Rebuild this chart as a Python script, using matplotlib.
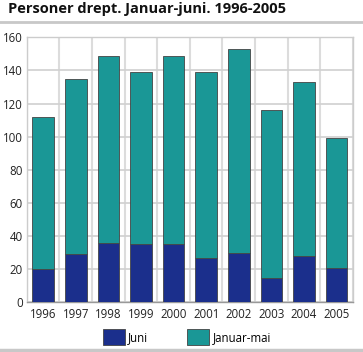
import matplotlib.pyplot as plt
import numpy as np
from matplotlib.lines import Line2D

plt.rcParams['font.family'] = ['Open Sans', 'DejaVu Sans']

years = ['1996', '1997', '1998', '1999', '2000', '2001', '2002', '2003', '2004', '2005']
juni = [20, 29, 36, 35, 35, 27, 30, 15, 28, 21]
total = [112, 135, 149, 139, 149, 139, 153, 116, 133, 99]
januar_mai = [t - j for t, j in zip(total, juni)]

fig = plt.figure(figsize=(3.63, 3.52), dpi=100)
ax = fig.add_axes([0.074, 0.141, 0.898, 0.753])

x = np.arange(len(years))
ax.bar(x, juni, width=0.66, color='#1b2f8c', edgecolor='#444444', linewidth=0.6,
       label='Juni', zorder=3)
ax.bar(x, januar_mai, bottom=juni, width=0.66, color='#1a9796', edgecolor='#444444',
       linewidth=0.6, label='Januar-mai', zorder=3)

ax.set_xlim(-0.5, len(years) - 0.5)
ax.set_ylim(0, 160)
ax.set_yticks(range(0, 161, 20))
ax.set_xticks(x)
ax.set_xticklabels(years)
ax.tick_params(axis='both', length=0, labelsize=8.3, colors='#222222')
ax.tick_params(axis='y', pad=3)
ax.tick_params(axis='x', pad=4)

for b in np.arange(-0.5, len(years), 1.0):
    ax.axvline(b, color='#dcdcdc', linewidth=1.5, zorder=0)
ax.yaxis.grid(True, color='#d0d0d0', linewidth=1.2, zorder=0)
for s in ax.spines.values():
    s.set_color('#cccccc')
    s.set_linewidth(1.0)
ax.spines['bottom'].set_color('#999999')

fig.text(0.022, 0.975, 'Personer drept. Januar-juni. 1996-2005', fontsize=10.5,
         fontweight='bold', va='center', ha='left', color='#111111')
fig.add_artist(Line2D([0, 1], [0.937, 0.937], color='#c8c8c8', linewidth=2,
                      transform=fig.transFigure))
fig.add_artist(Line2D([0, 1], [0.006, 0.006], color='#c8c8c8', linewidth=2.5,
                      transform=fig.transFigure))

fig.legend(loc='center', bbox_to_anchor=(0.515, 0.043), ncol=2, frameon=False,
           fontsize=8.3, handlelength=1.9, handleheight=1.7, columnspacing=3.4,
           handletextpad=0.3)

fig.savefig('out.png', dpi=100)
